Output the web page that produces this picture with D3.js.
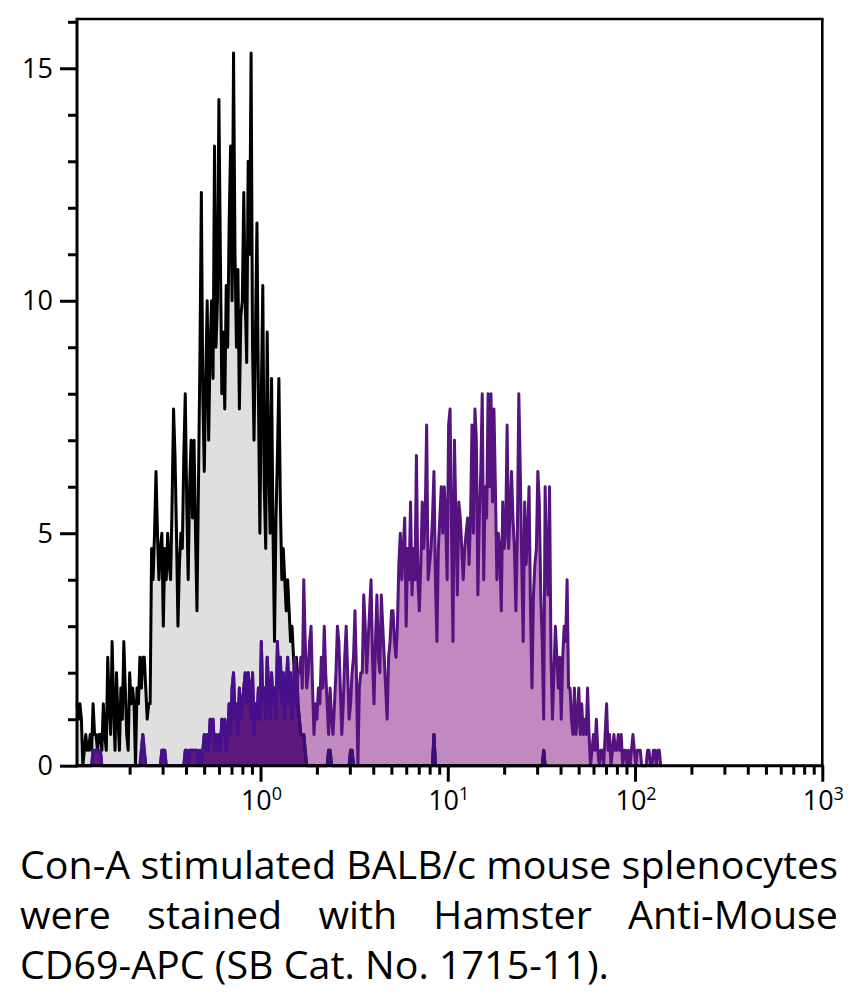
<!DOCTYPE html>
<html><head><meta charset="utf-8">
<script src="https://cdn.jsdelivr.net/npm/d3@7/dist/d3.min.js"></script>
<style>body{margin:0;background:#fff;}svg{display:block;}</style>
</head><body><svg id="chart" width="854" height="995"></svg>
<script>
// ---- data ----
const firstChannelLog = -0.98;      // log10 of first channel (left edge)
const channelsPerDecade = 128;
const xDomain = [Math.pow(10, -0.98), 1000];
const yDomain = [0, 16.06];
const xMajorTicks = [1, 10, 100, 1000];
const xTickBase = ["10", "10", "10", "10"];
const xTickExponents = ["0", "1", "2", "3"];
const yMajorTicks = [0, 5, 10, 15];
const yTickLabels = ["0", "5", "10", "15"];

// control (black outline, gray fill)
const controlValues = [
1.33,1,1.33,1,0,.33,.67,.33,.33,.67,
.33,1.33,.67,.67,.33,.67,.67,.33,1.33,.67,
.33,2.33,1.33,.67,2.67,1.33,.33,2,1,.33,
1.67,1,2.67,1.67,.67,.33,2,1.33,1.67,1.33,
0,1.67,1.33,2.33,1.67,2.33,2.33,1.67,1,1.33,
1.33,4.67,4,5,6.33,5,4,4.67,5,3,
4.67,4,5,4.33,4,5.67,7.67,6.67,5,3,
4.33,5,4.67,6.67,8,5.67,4,6,7,5.33,
7,5,3.33,6,8.67,12.33,8,6.33,8.33,10,
7,9,10,8.33,13.33,9,10,14.33,11,8,
9.33,7.67,10.33,9,11.67,13.33,10,15.33,11,9,
10.67,7.67,9.67,10,12.33,10,8.67,13,11,15.33,
9,7,9.33,11.67,8,5,8,10.33,6,4.67,
9.33,6.67,5,8.33,5,2.67,5.33,6.67,8.33,5.67,
4,4.67,4,3.33,4,3.33,2.67,3,2.33,1.67,
2.33,1.33,1,.67,.67,.67,.33,0,0,0,
0,0,0,0,0,0,0,0,0,0,
0,0,.33,.33,0,0,0,0,0,0,
0,0,0,0,0,0,0,.33,.33,0,
0,0,0,0,0,0,0,0,0,0,
0,0,0,0,0,0,0,0,0,0,
0,0,0,0,0,0,0,0,0,0,
0,0,0,0,0,0,0,0,0,0,
0,0,0,0,0,0,0,0,0,0,
0,0,0,0,.67,0,0,0,0,0,
0,0,0,0,0,0,0,0,0,0,
0,0,0,0,0,0,0,0,0,0,
0,0,0,0,0,0,0,0,0,0,
0,0,0,0,0,0,0,0,0,0,
0,0,0,0,0,0,0,0,0,0,
0,0,0,0,0,0,0,0,0,0,
0,0,0,0,0,0,0,0,0,.33,
0
];

// CD69-APC stained (purple outline, orchid fill)
const stainedValues = [
0,0,0,0,0,0,0,0,0,0,
0,.33,.33,.33,.33,.33,.33,0,0,0,
0,0,0,0,0,0,0,0,0,0,
0,0,0,0,0,0,0,0,0,0,
0,0,0,0,.33,.67,.33,0,0,0,
0,0,0,0,0,0,0,0,.33,.33,
.33,0,0,0,0,0,0,0,0,0,
0,0,0,0,.33,.33,0,.33,.33,.33,
.33,.33,.33,0,.33,0,.33,.67,.33,.67,
.33,1,.67,1,.33,.67,.33,.67,.33,1,
.67,1,.33,.67,1.33,.67,1.67,2,1,1.33,
.67,1.67,1,1.33,1.67,2,1.33,2,1.67,1,
2,.67,1.33,1,1.67,1,2.67,1.33,1.67,1,
2.33,1.67,1,2,1.33,1.67,1,2.67,1.67,2.33,
1.33,2,1,1.67,2.33,1.33,2,1,1.67,2.33,
1.33,2,2,2.33,1.67,4,2.67,1.67,2,2.67,
3,1.67,.67,1.33,1,1.67,1.33,2.33,1.67,3,
2,1.33,.67,1.67,1,.67,1.33,2,3,2.67,
1.67,.67,1.33,2.33,3,2,1,1.33,2,2.33,
3.33,2,0,1.67,2,2,3.67,3,2,2.67,
3.33,4,2.33,1.33,2.67,3.67,2.33,2,3.67,3,
2.33,1.67,1,2.33,2.67,3.33,3.33,2.67,2.33,3,
4.33,5,4,4.67,5.33,3,4.67,4,5.67,3.67,
4.67,4,6.67,4,3.33,4.33,5.67,4.67,5.33,7.33,
4,4.33,4.67,5.33,6.33,4,2.67,4.67,5.33,6,
5,6,5.33,4,7.33,7.67,5,2.67,7,5.33,
3.67,5.67,5.33,4.67,4,4.67,5,5.33,4.33,5.33,
7.33,5,7.67,7,3.67,5.33,6.33,8,4,6,
5.33,8,6,8,5.67,7.67,6,4,5,4.67,
3.33,5.67,4.67,5,7.33,4.67,5.33,6.33,5.33,4.67,
3.33,5,8,6.33,4.33,2.67,5.67,4.33,5,6,
3.33,1.67,3.67,4.33,4.67,6.33,5.67,3.67,2.67,1,
6,4.33,3.67,6,2.33,1,2,3,2.33,1.67,
2.33,1,2.33,3,2.67,4,1.67,1.67,1,.67,
1.67,.67,1,1.67,.67,1.33,.67,1,.67,1.67,
.67,0,.33,.67,.33,1,.33,0,.33,.33,
0,.67,1.33,.33,.67,0,.33,.67,.33,.33,
.67,.33,.67,0,.33,.33,0,.33,0,.33,
.67,.33,0,.33,.33,.33,0,0,0,0,
.33,.33,0,0,.33,.33,0,.33,.33,0
];

const captionLines = [
  "Con-A stimulated BALB/c mouse splenocytes",
  "were stained with Hamster Anti-Mouse",
  "CD69-APC (SB Cat. No. 1715-11)."
];

// ---- layout / style ----
const plot = {left: 77, right: 822.3, top: 19, bottom: 765.7};
const colors = {
  controlFill: "#dfdfdf", controlLine: "#000000", controlLineInStained: "#3b0e7e",
  stainedFill: "#c089c0", stainedLine: "#55137f", overlapFill: "#5d1a7c", stainedLineInControl: "#46108c"
};
const fontFamily = "'Open Sans', 'Noto Sans', sans-serif";

const svg = d3.select("#chart");
const x = d3.scaleLog().domain(xDomain).range([plot.left, plot.right]);
const y = d3.scaleLinear().domain(yDomain).range([plot.bottom, plot.top]);

const channel = i => Math.pow(10, firstChannelLog + i / channelsPerDecade);
const controlPts = controlValues.map((v, i) => [channel(i), v]);
const stainedPts = stainedValues.map((v, i) => [channel(i), v]);

const area = d3.area().x(d => x(d[0])).y0(y(0)).y1(d => y(d[1]));
const line = d3.line().x(d => x(d[0])).y(d => y(d[1]));

const defs = svg.append("defs");
defs.append("clipPath").attr("id", "clipControl").append("path").attr("d", area(controlPts));
defs.append("clipPath").attr("id", "clipStained").append("path").attr("d", area(stainedPts));

const lineStyle = sel => sel.attr("fill", "none").attr("stroke-width", 3)
  .attr("stroke-linejoin", "round").attr("stroke-linecap", "round");

svg.append("path").attr("d", area(controlPts)).attr("fill", colors.controlFill);
svg.append("path").attr("d", area(stainedPts)).attr("fill", colors.stainedFill);
svg.append("path").attr("d", area(stainedPts)).attr("fill", colors.overlapFill)
  .attr("clip-path", "url(#clipControl)");
svg.append("path").attr("d", line(controlPts)).attr("stroke", colors.controlLine).call(lineStyle);
svg.append("path").attr("d", line(controlPts)).attr("stroke", colors.controlLineInStained)
  .attr("clip-path", "url(#clipStained)").call(lineStyle);
svg.append("path").attr("d", line(stainedPts)).attr("stroke", colors.stainedLine).call(lineStyle);
svg.append("path").attr("d", line(stainedPts)).attr("stroke", colors.stainedLineInControl)
  .attr("clip-path", "url(#clipControl)").call(lineStyle);

// ---- axes ----
const xMinor = [];
for (let k = -1; k <= 2; k++) for (let m = 2; m <= 9; m++) {
  const v = m * Math.pow(10, k);
  if (v > xDomain[0] && v < xDomain[1]) xMinor.push(v);
}
const yMinor = d3.range(1, 17).filter(v => v % 5 !== 0);

function styleAxis(g) {
  g.select(".domain").remove();
  g.selectAll(".tick line").attr("stroke", "#000").attr("stroke-width", 3);
  g.selectAll(".tick text").remove();
}
svg.append("g").attr("transform", `translate(0,${plot.bottom})`)
  .call(d3.axisBottom(x).tickValues(xMinor).tickSize(9).tickFormat("")).call(styleAxis);
svg.append("g").attr("transform", `translate(0,${plot.bottom})`)
  .call(d3.axisBottom(x).tickValues(xMajorTicks).tickSize(16).tickFormat("")).call(styleAxis);
svg.append("g").attr("transform", `translate(${plot.left},0)`)
  .call(d3.axisLeft(y).tickValues(yMinor).tickSize(9).tickFormat("")).call(styleAxis);
svg.append("g").attr("transform", `translate(${plot.left},0)`)
  .call(d3.axisLeft(y).tickValues(yMajorTicks).tickSize(17).tickFormat("")).call(styleAxis);

// frame
const frame = svg.append("g").attr("stroke", "#000");
frame.append("line").attr("x1", plot.left - 1.5).attr("x2", plot.right + 1.3)
  .attr("y1", plot.bottom).attr("y2", plot.bottom).attr("stroke-width", 3);
frame.append("line").attr("x1", plot.left).attr("x2", plot.left)
  .attr("y1", plot.top - 1.3).attr("y2", plot.bottom + 1.5).attr("stroke-width", 3);
frame.append("line").attr("x1", plot.left).attr("x2", plot.right + 1.3)
  .attr("y1", plot.top).attr("y2", plot.top).attr("stroke-width", 2.6);
frame.append("line").attr("x1", plot.right).attr("x2", plot.right)
  .attr("y1", plot.top).attr("y2", plot.bottom).attr("stroke-width", 2.6);

// tick labels
const yLab = svg.append("g").attr("font-family", fontFamily).attr("font-size", 27).attr("fill", "#000");
yMajorTicks.forEach((v, i) => {
  yLab.append("text").attr("x", 53).attr("y", y(v)).attr("dy", "0.36em")
    .attr("text-anchor", "end").text(yTickLabels[i]);
});
const xLab = svg.append("g").attr("font-family", fontFamily).attr("fill", "#000");
xMajorTicks.forEach((v, i) => {
  const t = xLab.append("text").attr("x", x(v) + 1).attr("y", 810).attr("text-anchor", "middle");
  t.append("tspan").attr("font-size", 27).text(xTickBase[i]);
  t.append("tspan").attr("font-size", 18).attr("dy", -10).text(xTickExponents[i]);
});

// caption (justified; glyphs condensed with textLength)
const capLeft = 20, capRight = 838, capWidth = capRight - capLeft;
const baselines = [879, 929, 979];
const capSize = 39;
const cap = svg.append("g").attr("font-family", fontFamily).attr("font-size", capSize).attr("fill", "#000");
const probe = cap.append("text").text(captionLines[0]);
const sx = capWidth / probe.node().getComputedTextLength();
probe.remove();
captionLines.forEach((ln, li) => {
  const justify = li < captionLines.length - 1;
  const words = ln.split(" ");
  const texts = words.map(w => cap.append("text").attr("y", baselines[li]).text(w));
  const widths = texts.map(t => t.node().getComputedTextLength() * sx);
  const spaceW = (capWidth - d3.sum(captionLines[0].split(" ").map(w => 0))) ; // placeholder not used
  let gap;
  if (justify) gap = (capWidth - d3.sum(widths)) / (words.length - 1);
  else {
    const p = cap.append("text").text("a a");
    const q = cap.append("text").text("aa");
    gap = (p.node().getComputedTextLength() - q.node().getComputedTextLength()) * sx;
    p.remove(); q.remove();
  }
  let cx = capLeft;
  texts.forEach((t, k) => {
    t.attr("x", cx).attr("textLength", widths[k]).attr("lengthAdjust", "spacingAndGlyphs");
    cx += widths[k] + gap;
  });
});
</script>
</body></html>
